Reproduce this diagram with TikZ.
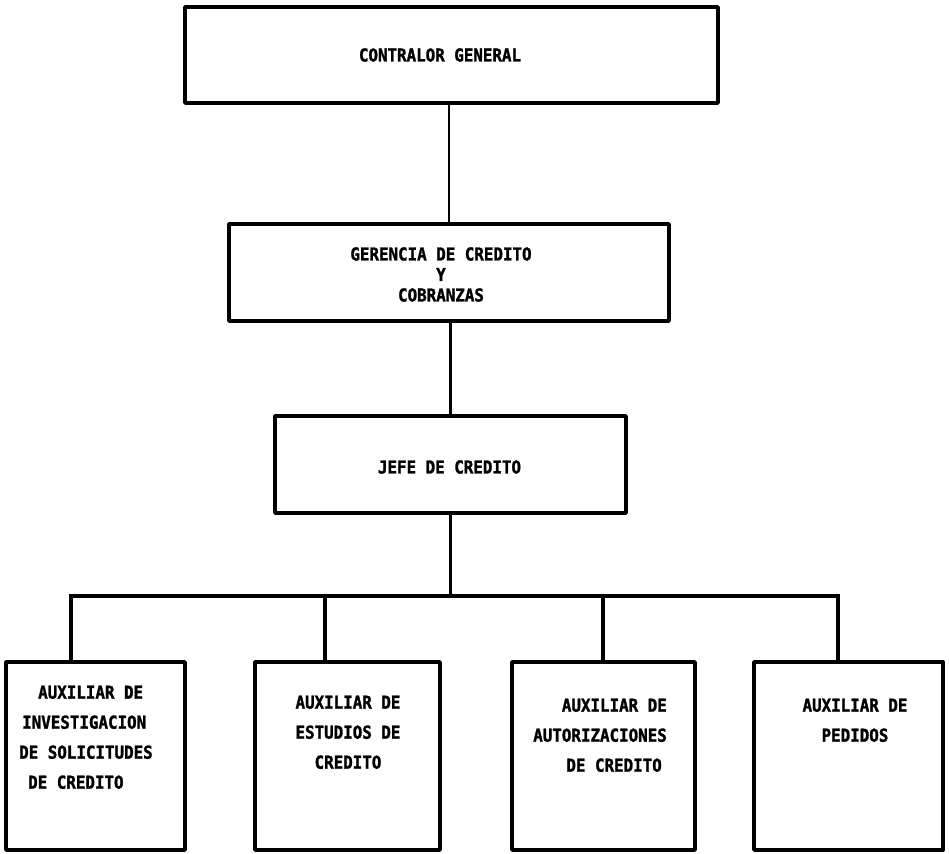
\documentclass[tikz,border=0pt]{standalone}
\usepackage{fontspec}
\newfontfamily\orgfont[FakeStretch=0.89, BoldFeatures={FakeBold=1.5}]{DejaVu Sans Mono}
\begin{document}
\begin{tikzpicture}[x=1pt,y=-1pt,
  box/.style={draw, line width=3.8pt, inner sep=0pt, line join=round},
  conn/.style={line width=3.2pt, line join=miter},
  thinconn/.style={line width=2.5pt},
  lbl/.style={font=\orgfont\bfseries\fontsize{17.8}{30}\selectfont, inner sep=0pt},
]
\useasboundingbox[fill=white] (0,0) rectangle (949,853);
% boxes
\node[box, minimum width=533pt, minimum height=96pt] (cg) at (451.5,55) {};
\node[box, minimum width=440pt, minimum height=97pt] (ger) at (449,272.5) {};
\node[box, minimum width=351pt, minimum height=97pt] (jefe) at (450.5,464.5) {};
\node[box, minimum width=179pt, minimum height=188pt] (b1) at (95.5,756) {};
\node[box, minimum width=185pt, minimum height=188pt] (b2) at (347.5,756) {};
\node[box, minimum width=183pt, minimum height=188pt] (b3) at (603.5,756) {};
\node[box, minimum width=189pt, minimum height=188pt] (b4) at (848.5,756) {};
% texts
\node[lbl] (t0) at (440,55) {CONTRALOR GENERAL};
\node[lbl, align=center, font=\orgfont\bfseries\fontsize{17.8}{20.5}\selectfont] (t1) at (441,274.5) {GERENCIA DE CREDITO\\Y\\COBRANZAS};
\node[lbl] (t2) at (449.5,467) {JEFE DE CREDITO};
\node[lbl, align=left, anchor=north west] (t3) at (19,685.5)
  {\hspace*{19pt}AUXILIAR DE\\\hspace*{3pt}INVESTIGACION\\DE SOLICITUDES\\\hspace*{9pt}DE CREDITO};
\node[lbl, align=center, anchor=north] (t4) at (348,695.5)
  {AUXILIAR DE\\ESTUDIOS DE\\CREDITO};
\node[lbl, align=right, anchor=north east] (t5) at (667,698.5)
  {AUXILIAR DE\\AUTORIZACIONES\\DE CREDITO\hspace*{5pt}};
\node[lbl, align=center, anchor=north] (t6) at (855,698.5)
  {AUXILIAR DE\\PEDIDOS};
% connectors
\draw[thinconn] (ger.north) -- (ger.north |- cg.south);
\draw[thinconn] (jefe.north) -- (jefe.north |- ger.south);
\coordinate (d1) at (71,596);
\coordinate (d2) at (325,596);
\coordinate (d3) at (603,596);
\coordinate (d4) at (838,596);
\draw[conn] (jefe.south) -- (jefe.south |- d1);
\draw[conn] (d1 |- b1.north) -- (d1) -- (d4) -- (d4 |- b4.north);
\draw[conn] (d2) -- (d2 |- b2.north);
\draw[conn] (d3) -- (d3 |- b3.north);
\end{tikzpicture}
\end{document}
